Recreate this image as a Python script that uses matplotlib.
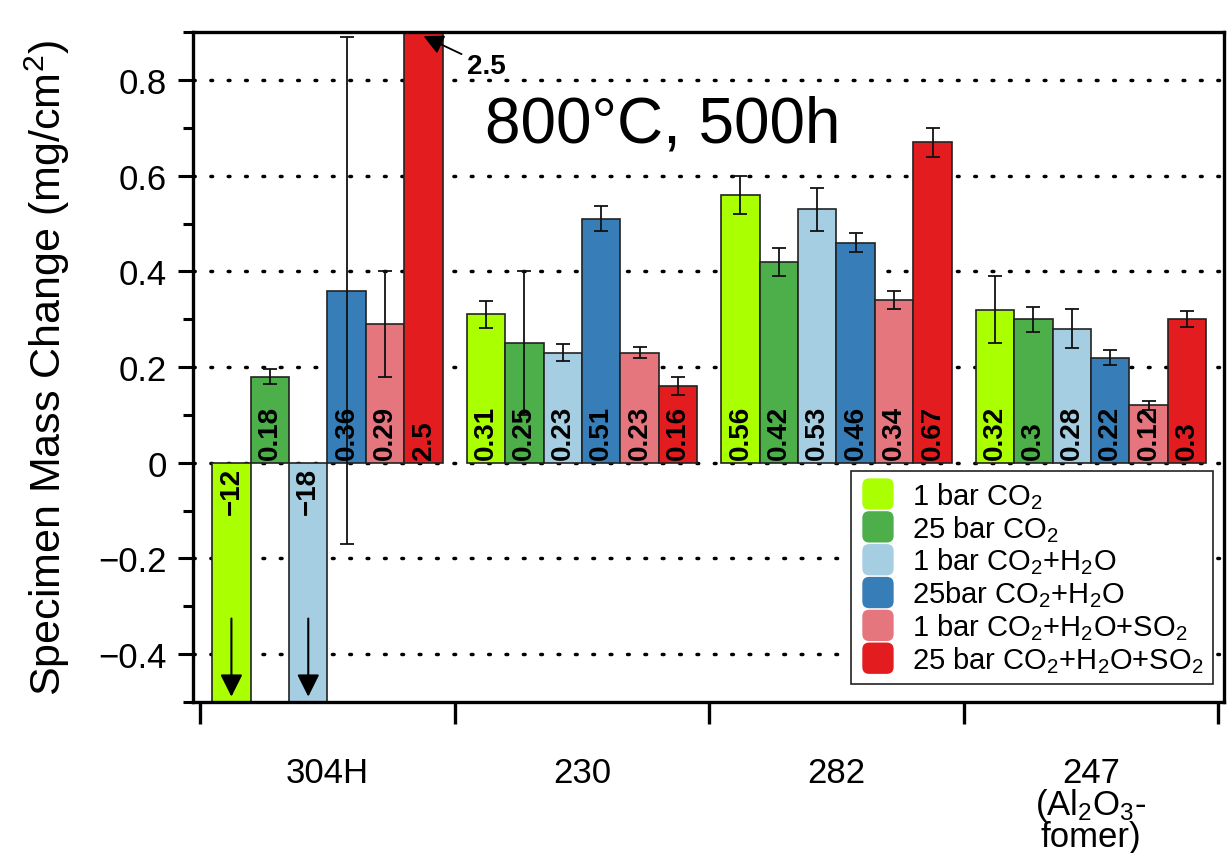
import numpy as np
import matplotlib
matplotlib.use("Agg")
import matplotlib.pyplot as plt
from matplotlib.patches import Patch, FancyBboxPatch
from matplotlib.legend_handler import HandlerPatch
from matplotlib.ticker import MultipleLocator, FixedLocator, NullFormatter, FixedFormatter

plt.rcParams['font.family'] = ['Liberation Sans', 'DejaVu Sans']
plt.rcParams['mathtext.fontset'] = 'custom'
plt.rcParams['mathtext.rm'] = 'Liberation Sans'
plt.rcParams['mathtext.it'] = 'Liberation Sans:italic'
plt.rcParams['mathtext.bf'] = 'Liberation Sans:bold'

# Data
alloys = ['304H', '230', '282', '247\n(Al$\\mathregular{_2}$O$\\mathregular{_3}$-\nfomer)']
conditions = [
    '1 bar CO$\\mathregular{_2}$',
    '25 bar CO$\\mathregular{_2}$',
    '1 bar CO$\\mathregular{_2}$+H$\\mathregular{_2}$O',
    '25bar CO$\\mathregular{_2}$+H$\\mathregular{_2}$O',
    '1 bar CO$\\mathregular{_2}$+H$\\mathregular{_2}$O+SO$\\mathregular{_2}$',
    '25 bar CO$\\mathregular{_2}$+H$\\mathregular{_2}$O+SO$\\mathregular{_2}$',
]
colors = ['#aaff00', '#4daf4a', '#a6cee3', '#377eb8', '#e5767e', '#e31d1f']

co2_1bar = [-12, 0.31, 0.56, 0.32]
co2_25bar = [0.18, 0.25, 0.42, 0.30]
h2o_1bar = [-18, 0.23, 0.53, 0.28]
h2o_25bar = [0.36, 0.51, 0.46, 0.22]
so2_1bar = [0.29, 0.23, 0.34, 0.12]
so2_25bar = [2.5, 0.16, 0.67, 0.30]

err_co2_1bar = [np.nan, 0.028, 0.04, 0.07]
err_co2_25bar = [0.015, 0.15, 0.029, 0.026]
err_h2o_1bar = [np.nan, 0.018, 0.045, 0.041]
err_h2o_25bar = [0.53, 0.026, 0.02, 0.015]
err_so2_1bar = [0.11, 0.011, 0.019, 0.01]
err_so2_25bar = [np.nan, 0.019, 0.03, 0.017]

series = [co2_1bar, co2_25bar, h2o_1bar, h2o_25bar, so2_1bar, so2_25bar]
errors = [err_co2_1bar, err_co2_25bar, err_h2o_1bar, err_h2o_25bar, err_so2_1bar, err_so2_25bar]

fig = plt.figure(figsize=(12.3, 8.54), dpi=100)
ax = fig.add_axes([0.157, 0.177, 0.838, 0.784])

x = np.arange(len(alloys))
width = 0.151
ymin, ymax = -0.5, 0.9

for i, (vals, errs, col) in enumerate(zip(series, errors, colors)):
    xs = x + (i - 2.5) * width
    ax.bar(xs, vals, width, color=col, edgecolor='#222222', linewidth=1.2, zorder=2)
    ax.errorbar(xs, vals, yerr=errs, fmt='none', ecolor='#111111', elinewidth=1.3,
                capsize=5, capthick=1.3, zorder=3)
    for xi, v in zip(xs, vals):
        lbl = f"{v:g}".replace('-', '\u2212')
        if v >= 0:
            ax.annotate(lbl, (xi, 0), xytext=(0, 3), textcoords='offset points',
                        rotation=90, ha='center', va='bottom', fontsize=20,
                        fontweight='bold', zorder=4)
        else:
            ax.annotate(lbl, (xi, 0), xytext=(0, -3), textcoords='offset points',
                        rotation=90, ha='center', va='top', fontsize=20,
                        fontweight='bold', zorder=4)
        # off-scale values get an arrow
        if v < ymin:
            ax.annotate('', xy=(xi, ymin + 0.005), xytext=(xi, -0.32),
                        arrowprops=dict(arrowstyle='-|>', color='k', lw=1.5,
                                        mutation_scale=34), zorder=5)
        if v > ymax:
            ax.annotate(lbl.replace('\u2212', '-'), xy=(xi, 0.892),
                        xytext=(xi + 0.17, 0.83), fontsize=20, fontweight='bold',
                        va='center', ha='left',
                        arrowprops=dict(arrowstyle='-|>', color='k', lw=1.3,
                                        mutation_scale=30, shrinkA=2, shrinkB=0),
                        zorder=5)

ax.set_xlim(-0.528, 3.522)
ax.set_ylim(ymin, ymax)

# y axis
ax.yaxis.set_major_locator(MultipleLocator(0.2))
ax.yaxis.set_minor_locator(MultipleLocator(0.1))
ax.yaxis.set_major_formatter(plt.FuncFormatter(
    lambda v, p: '0' if abs(v) < 1e-9 else f"{v:.1f}".replace('-', '\u2212')))
ax.tick_params(axis='y', which='major', direction='out', length=11, width=2.2,
               labelsize=25, pad=8)
ax.tick_params(axis='y', which='minor', direction='out', length=7, width=2.2)
ax.grid(axis='y', which='major', linestyle=(0, (0.5, 4.5)), linewidth=2.5,
        color='k', dash_capstyle='round')
ax.set_axisbelow(True)

# x axis: group boundaries as ticks, names in between
ax.xaxis.set_major_locator(FixedLocator(np.arange(-0.5, 4.0, 1.0)))
ax.xaxis.set_major_formatter(NullFormatter())
ax.xaxis.set_minor_locator(FixedLocator(x))
ax.xaxis.set_minor_formatter(FixedFormatter(alloys))
ax.tick_params(axis='x', which='major', direction='out', length=16, width=2.4)
ax.tick_params(axis='x', which='minor', length=0, labelsize=25, pad=39)
for t in ax.xaxis.get_minorticklabels():
    t.set_linespacing(0.88)
    t.set_va('top')

for s in ax.spines.values():
    s.set_linewidth(2.4)

ax.set_ylabel('Specimen Mass Change (mg/cm$\\mathregular{^2}$)', fontsize=31, labelpad=19)

ax.text(0.283, 0.862, '800\u00b0C, 500h', transform=ax.transAxes, fontsize=46,
        ha='left', va='center')


def round_box(legend, orig_handle, xdescent, ydescent, width, height, fontsize):
    s = height * 1.2
    return FancyBboxPatch((-xdescent + (width - s) / 2, -ydescent + (height - s) / 2), s, s,
                          boxstyle='round,pad=0,rounding_size=%f' % (s * 0.22),
                          facecolor=orig_handle.get_facecolor(), edgecolor='#222222',
                          linewidth=1.0)


handles = [Patch(facecolor=c, label=l) for c, l in zip(colors, conditions)]
leg = ax.legend(handles=handles, loc='lower right', bbox_to_anchor=(0.989, 0.027),
                borderaxespad=0,
                fontsize=21, frameon=True, fancybox=False, edgecolor='#222222',
                framealpha=1, handlelength=1.25, handleheight=1.0, labelspacing=0.07,
                handletextpad=0.55, borderpad=0.3,
                handler_map={Patch: HandlerPatch(patch_func=round_box)})
leg.get_frame().set_linewidth(1.2)

fig.savefig('out.png', dpi=100)
